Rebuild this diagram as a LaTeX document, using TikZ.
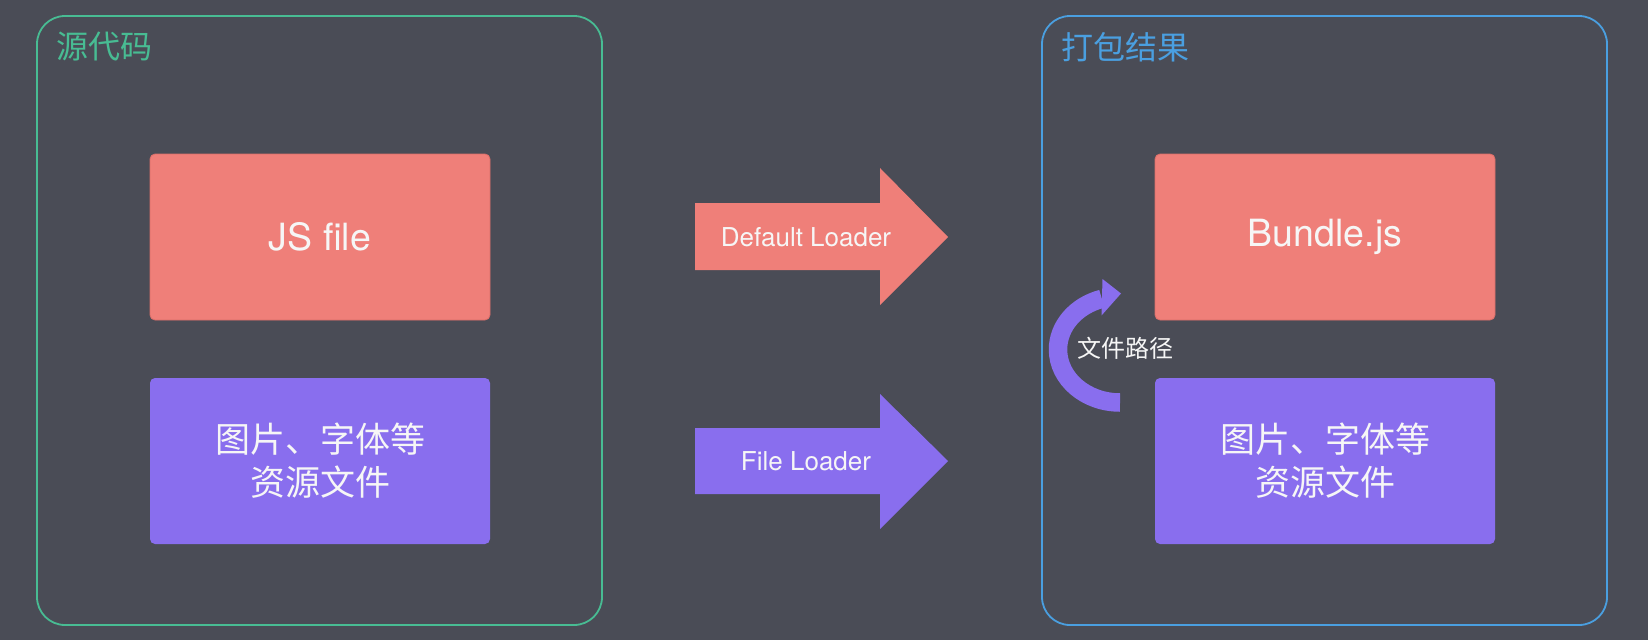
\documentclass[tikz,border=0pt]{standalone}
\usepackage{fontspec}
\setmainfont{TeX Gyre Heros}
\newfontfamily\cjk{Noto Sans CJK SC}

\definecolor{bgcol}{HTML}{4A4C56}
\definecolor{redcol}{HTML}{EF7F79}
\definecolor{redline}{HTML}{D96E69}
\definecolor{purplecol}{HTML}{896EEE}
\definecolor{greencol}{HTML}{48BC93}
\definecolor{bluecol}{HTML}{4A9FE0}
\definecolor{textcol}{HTML}{F6F6F6}

\tikzset{
	frame/.style={line width=1.8pt, rounded corners=28pt},
	frametitle/.style={anchor=west, font=\cjk\fontsize{32}{36}\selectfont},
	filebox/.style={rounded corners=5pt, minimum width=340pt, minimum height=166pt,
		text=textcol, align=center, inner sep=0pt},
	jsbox/.style={filebox, fill=redcol, draw=redline, line width=0.8pt,
		font=\fontsize{37.5}{44}\selectfont},
	assetbox/.style={filebox, fill=purplecol, font=\cjk\fontsize{35}{43}\selectfont},
	loaderlabel/.style={text=textcol, font=\fontsize{26}{30}\selectfont}
}

\begin{document}
\begin{tikzpicture}[x=1pt, y=-1pt]
	\fill [bgcol] (0,0) rectangle (1648,640);
	\useasboundingbox (0,0) rectangle (1648,640);

	% source side
	\draw [frame, greencol] (37,16) rectangle (602,625);
	\node [frametitle, text=greencol] (srctitle) at (53,47) {源代码};
	\node [jsbox] (jsfile) at (320,237) {JS file};
	\node [assetbox] (srcassets) at (320,461) {图片、字体等\\资源文件};

	% loaders
	\fill [redcol] (695,203) -- (880,203) -- (880,168) -- (948,237) -- (880,305) -- (880,270) -- (695,270) -- cycle;
	\node [loaderlabel] (defaultloader) at (806,237) {Default Loader};
	\fill [purplecol] (695,428) -- (880,428) -- (880,394) -- (948,461) -- (880,529) -- (880,494) -- (695,494) -- cycle;
	\node [loaderlabel] (fileloader) at (806,461) {File Loader};

	% bundle side
	\draw [frame, bluecol] (1042,16) rectangle (1607,625);
	\node [frametitle, text=bluecol] (disttitle) at (1058,47) {打包结果};
	\node [jsbox] (bundle) at (1325,237) {Bundle.js};
	\node [assetbox] (distassets) at (1325,461) {图片、字体等\\资源文件};

	% file path back into the bundle
	\draw [purplecol, line width=18.5pt] (1120,402.5) arc [start angle=90, end angle=253, x radius=62, y radius=53];
	\fill [purplecol] (1102.5,279) -- (1121,293.5) -- (1101.5,315.5) -- cycle;
	\node [text=textcol, font=\cjk\fontsize{24}{28}\selectfont] (filepath) at (1125,348) {文件路径};
\end{tikzpicture}
\end{document}
